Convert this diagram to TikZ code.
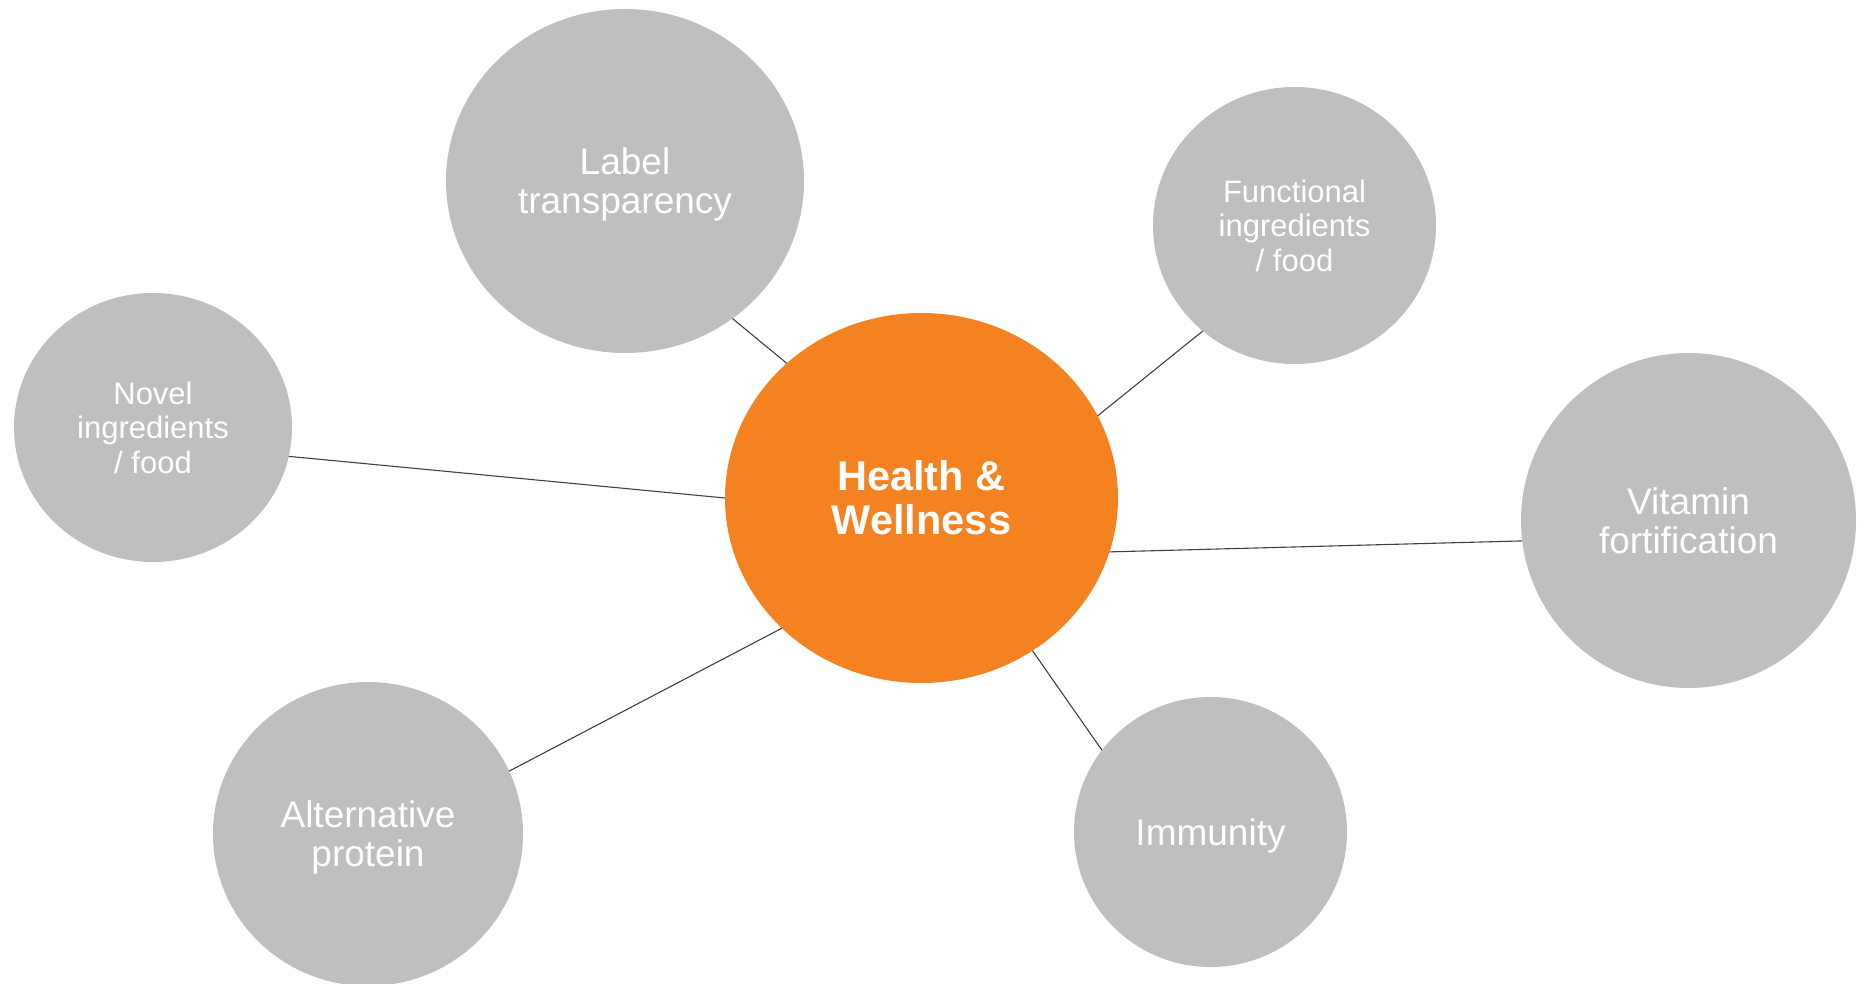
\documentclass[tikz,border=0pt]{standalone}
\usepackage{fontspec}
\setmainfont{Liberation Sans}
\usetikzlibrary{shapes.geometric}
\definecolor{bubblegray}{HTML}{BFBFBF}
\definecolor{huborange}{HTML}{F58220}
\definecolor{linkgray}{HTML}{404040}
% a line set without descender depth, so that the text block centres on its baselines
\newcommand{\nodepth}[1]{\raisebox{0pt}[\height][0pt]{#1}}
\begin{document}
\begin{tikzpicture}[x=1pt,y=-1pt,
  bubble/.style={ellipse, fill=bubblegray, text=white, inner sep=0pt, outer sep=0pt, align=center},
  hub/.style={ellipse, fill=huborange, text=white, inner sep=0pt, outer sep=0pt, align=center,
    font=\fontsize{41.5}{44}\selectfont\bfseries},
  bigtext/.style={font=\fontsize{37}{39}\selectfont},
  smalltext/.style={font=\fontsize{31}{34.5}\selectfont},
  link/.style={draw=linkgray, line width=1.1pt}]
\useasboundingbox (0,0) rectangle (1863,984);
\clip (0,0) rectangle (1863,984);

% central topic
\node[hub, minimum width=393pt, minimum height=370pt] (hw) at (921.5,498) {Health \&\\Wellness};

% surrounding topics
\node[bubble, bigtext, minimum width=358pt, minimum height=344pt] (label) at (625,181) {Label\\\nodepth{transparency}};
\node[bubble, smalltext, minimum width=283pt, minimum height=277pt] (func) at (1294.5,225.5) {Functional\\ingredients\\/ food};
\node[bubble, smalltext, minimum width=278pt, minimum height=269pt] (novel) at (153,427.5) {Novel\\ingredients\\/ food};
\node[bubble, bigtext, minimum width=335pt, minimum height=335pt] (vit) at (1688.5,520.5) {Vitamin\\fortification};
\node[bubble, bigtext, minimum width=310pt, minimum height=304pt] (alt) at (368,834) {Alternative\\\nodepth{protein}};
\node[bubble, bigtext, minimum width=273pt, minimum height=270pt] (imm) at (1210.5,832) {\nodepth{Immunity}};

% connectors
\draw[link] (label.-52.5) -- (hw.135.7);
\draw[link] (func.229.3) -- (hw.25.7);
\draw[link] (novel.-12.1) -- (hw.180.9);
\draw[link] (vit.187.5) -- (hw.-16.1);
\draw[link] (alt.24.2) -- (hw.223.9);
\draw[link] (imm.143) -- (hw.-54.3);
\end{tikzpicture}
\end{document}
